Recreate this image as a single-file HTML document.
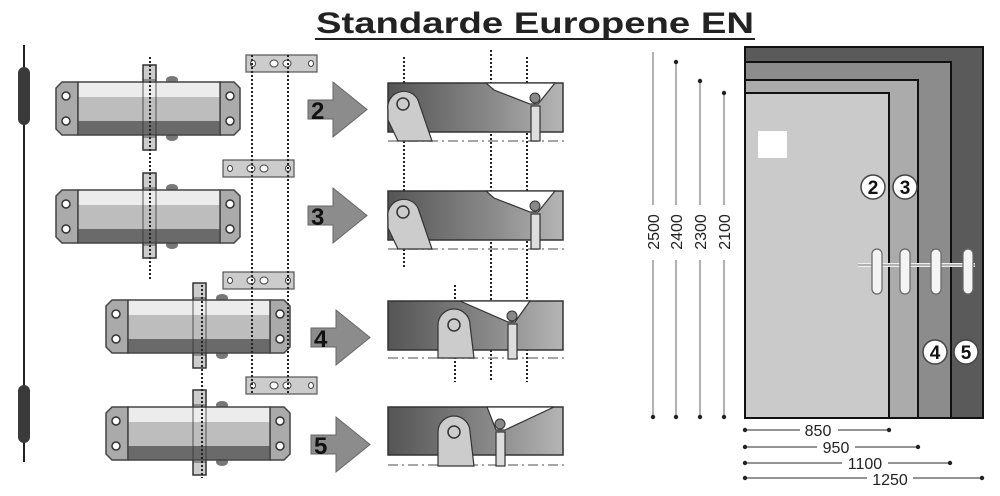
<!DOCTYPE html>
<html><head><meta charset="utf-8"><style>
html,body{margin:0;padding:0;background:#fff;}
svg{display:block;}
text{font-family:"Liberation Sans",sans-serif;}
</style></head><body>
<svg width="1000" height="496" viewBox="0 0 1000 496" xmlns="http://www.w3.org/2000/svg">
<defs>
<linearGradient id="br" x1="0" x2="1" y1="0" y2="0">
<stop offset="0" stop-color="#555"/><stop offset="0.6" stop-color="#8a8a8a"/><stop offset="1" stop-color="#b5b5b5"/>
</linearGradient>
<g id="closer">
<!-- shaft -->
<rect x="143" y="65" width="13" height="85" fill="#ccc" stroke="#333" stroke-width="1.5"/>
<ellipse cx="172" cy="80" rx="6" ry="4" fill="#777"/>
<ellipse cx="172" cy="137" rx="6" ry="4" fill="#777"/>
<!-- body -->
<path d="M62 82 L78 82 L78 135 L62 135 L56 129 L56 88 Z" fill="#aaa" stroke="#444" stroke-width="1.5"/>
<path d="M220 82 L234 82 L240 88 L240 129 L234 135 L220 135 Z" fill="#aaa" stroke="#444" stroke-width="1.5"/>
<rect x="78" y="82" width="142" height="15" fill="#ececec"/>
<rect x="78" y="97" width="142" height="24" fill="#bdbdbd"/>
<rect x="78" y="121" width="142" height="14" fill="#6a6a6a"/>
<rect x="78" y="82" width="142" height="53" fill="none" stroke="#444" stroke-width="1.5"/>
<rect x="143" y="80" width="13" height="57" fill="none" stroke="#333" stroke-width="0.8"/>
<circle cx="66" cy="96" r="4" fill="#fff" stroke="#333" stroke-width="1.5"/>
<circle cx="66" cy="121" r="4" fill="#fff" stroke="#333" stroke-width="1.5"/>
<circle cx="230" cy="96" r="4" fill="#fff" stroke="#333" stroke-width="1.5"/>
<circle cx="230" cy="121" r="4" fill="#fff" stroke="#333" stroke-width="1.5"/>
</g>
<g id="plate">
<rect x="0" y="0" width="71" height="17" fill="#ccc" stroke="#555" stroke-width="1.2"/>
<ellipse cx="7" cy="8.5" rx="2.5" ry="3" fill="#fff" stroke="#444"/>
<ellipse cx="28" cy="8.5" rx="4" ry="3.5" fill="#fff" stroke="#444"/>
<ellipse cx="41" cy="8.5" rx="4" ry="3.5" fill="#fff" stroke="#444"/>
<ellipse cx="65" cy="8.5" rx="2.5" ry="3" fill="#fff" stroke="#444"/>
</g>
<g id="arrow">
<path d="M0 18 L25 18 L25 0 L59 27.5 L25 55 L25 37 L0 37 Z" fill="#8c8c8c" stroke="#666" stroke-width="1"/>
</g>
</defs>

<!-- title -->
<text x="535" y="33" text-anchor="middle" font-size="30" font-weight="bold" fill="#222" textLength="438" lengthAdjust="spacingAndGlyphs">Standarde  Europene  EN</text>
<line x1="315" y1="39" x2="755" y2="39" stroke="#222" stroke-width="2"/>

<!-- left rod -->
<line x1="24" y1="45" x2="24" y2="462" stroke="#222" stroke-width="2"/>
<rect x="18" y="67" width="12" height="58" rx="6" fill="#3a3a3a"/>
<rect x="18" y="385" width="12" height="58" rx="6" fill="#3a3a3a"/>

<!-- closers -->
<use href="#closer"/>
<use href="#closer" transform="translate(0,108)"/>
<use href="#closer" transform="translate(50,218)"/>
<use href="#closer" transform="translate(50,325)"/>

<!-- plates -->
<use href="#plate" transform="translate(246,55)"/>
<use href="#plate" transform="translate(223,160)"/>
<use href="#plate" transform="translate(223,272)"/>
<use href="#plate" transform="translate(246,377)"/>

<!-- dotted vertical lines -->
<g stroke="#222" stroke-width="2" stroke-dasharray="2,2" fill="none">
<line x1="150" y1="57" x2="150" y2="280"/>
<line x1="202" y1="285" x2="202" y2="478"/>
<line x1="252" y1="55" x2="252" y2="395"/>
<line x1="288" y1="55" x2="288" y2="395"/>
<line x1="404" y1="57" x2="404" y2="268"/>
<line x1="491" y1="50" x2="491" y2="382"/>
<line x1="527" y1="57" x2="527" y2="382"/>
<line x1="455" y1="285" x2="455" y2="382"/>
</g>

<!-- arrows -->
<use href="#arrow" transform="translate(308,82)"/>
<use href="#arrow" transform="translate(308,188)"/>
<use href="#arrow" transform="translate(311,310)"/>
<use href="#arrow" transform="translate(311,417)"/>
<g font-size="24" font-weight="bold" fill="#111">
<text x="311" y="119">2</text>
<text x="311" y="225">3</text>
<text x="314" y="347">4</text>
<text x="314" y="454">5</text>
</g>

<!-- brackets -->
<g id="b1">
<line x1="388" y1="141" x2="565" y2="141" stroke="#888" stroke-width="1.5" stroke-dasharray="10,4,2,4"/>
<rect x="388" y="83" width="175" height="49" fill="url(#br)" stroke="#333" stroke-width="1.5"/>
<path d="M388 110 A16 16 0 0 1 418 100 L432 141 L398 141 L388 120 Z" fill="#ccc" stroke="#333" stroke-width="1.2"/>
<circle cx="403" cy="104" r="6" fill="none" stroke="#333" stroke-width="1.5"/>
<path d="M486 83 L555 83 L538 104 L530 104 L494 90 Z" fill="#fff" stroke="#333" stroke-width="1.2"/>
<circle cx="535" cy="98" r="5" fill="#888" stroke="#333"/>
<rect x="531" y="106" width="9" height="35" fill="#ddd" stroke="#333" stroke-width="1.2"/>
</g>
<use href="#b1" transform="translate(0,108)"/>
<g>
<line x1="388" y1="358" x2="565" y2="358" stroke="#888" stroke-width="1.5" stroke-dasharray="10,4,2,4"/>
<rect x="388" y="301" width="175" height="49" fill="url(#br)" stroke="#333" stroke-width="1.5"/>
<path d="M438 358 L438 325 A16 16 0 0 1 470 325 L474 358 Z" fill="#ccc" stroke="#333" stroke-width="1.2"/>
<circle cx="454" cy="325" r="6" fill="none" stroke="#333" stroke-width="1.5"/>
<path d="M460 301 L530 301 L515 322 L508 322 Z" fill="#fff" stroke="#333" stroke-width="1.2"/>
<circle cx="512" cy="316" r="5" fill="#888" stroke="#333"/>
<rect x="508" y="324" width="9" height="35" fill="#ddd" stroke="#333" stroke-width="1.2"/>
</g>
<g>
<line x1="388" y1="465" x2="565" y2="465" stroke="#888" stroke-width="1.5" stroke-dasharray="10,4,2,4"/>
<rect x="388" y="407" width="175" height="48" fill="url(#br)" stroke="#333" stroke-width="1.5"/>
<path d="M438 466 L438 432 A16 16 0 0 1 470 432 L474 466 Z" fill="#ccc" stroke="#333" stroke-width="1.2"/>
<circle cx="454" cy="432" r="6" fill="none" stroke="#333" stroke-width="1.5"/>
<path d="M487 407 L554 407 L505 430 L496 430 Z" fill="#fff" stroke="#333" stroke-width="1.2"/>
<circle cx="500" cy="424" r="5" fill="#888" stroke="#333"/>
<rect x="496" y="432" width="9" height="34" fill="#ddd" stroke="#333" stroke-width="1.2"/>
</g>

<!-- doors -->
<rect x="745" y="47" width="238" height="371" fill="#5a5a5a" stroke="#111" stroke-width="2"/>
<rect x="745" y="62" width="206" height="356" fill="#8c8c8c" stroke="#111" stroke-width="2"/>
<rect x="745" y="80" width="173" height="338" fill="#ababab" stroke="#111" stroke-width="2"/>
<rect x="745" y="93" width="144" height="325" fill="#cacaca" stroke="#111" stroke-width="2"/>
<rect x="758" y="131" width="29" height="27" fill="#fff"/>
<line x1="858" y1="265" x2="975" y2="265" stroke="#eee" stroke-width="4"/>
<line x1="858" y1="265" x2="975" y2="265" stroke="#777" stroke-width="1" />
<g fill="#f4f4f4" stroke="#666" stroke-width="1.2">
<rect x="872" y="249" width="10" height="45" rx="5"/>
<rect x="900" y="249" width="10" height="45" rx="5"/>
<rect x="931" y="249" width="10" height="45" rx="5"/>
<rect x="963" y="249" width="10" height="45" rx="5"/>
</g>
<g fill="#fff" stroke="#444" stroke-width="1.5">
<circle cx="873" cy="187" r="12"/><circle cx="905" cy="187" r="12"/>
<circle cx="935" cy="352" r="12"/><circle cx="966" cy="352" r="12"/>
</g>
<g font-size="19" font-weight="bold" fill="#111" text-anchor="middle">
<text x="873" y="194">2</text><text x="905" y="194">3</text>
<text x="935" y="359">4</text><text x="966" y="359">5</text>
</g>

<!-- vertical dims -->
<g stroke="#999" stroke-width="1.5">
<line x1="653" y1="52" x2="653" y2="418"/>
<line x1="676" y1="62" x2="676" y2="418"/>
<line x1="700" y1="81" x2="700" y2="418"/>
<line x1="724" y1="93" x2="724" y2="418"/>
</g>
<g fill="#222">
<circle cx="676" cy="62" r="2.2"/><circle cx="700" cy="81" r="2.2"/><circle cx="724" cy="93" r="2.2"/>
<circle cx="653" cy="417" r="2.2"/><circle cx="676" cy="417" r="2.2"/><circle cx="700" cy="417" r="2.2"/><circle cx="724" cy="417" r="2.2"/>
</g>
<g font-size="16" fill="#222" text-anchor="middle">
<rect x="645" y="205" width="86" height="55" fill="#fff"/>
<text transform="translate(659,232) rotate(-90)">2500</text>
<text transform="translate(682,232) rotate(-90)">2400</text>
<text transform="translate(706,232) rotate(-90)">2300</text>
<text transform="translate(730,232) rotate(-90)">2100</text>
</g>

<!-- horizontal dims -->
<g stroke="#555" stroke-width="1.3">
<line x1="745" y1="430" x2="889" y2="430"/>
<line x1="745" y1="447" x2="918" y2="447"/>
<line x1="745" y1="463" x2="950" y2="463"/>
<line x1="745" y1="478" x2="982" y2="478"/>
</g>
<g fill="#222">
<circle cx="745" cy="430" r="2.2"/><circle cx="889" cy="430" r="2.2"/>
<circle cx="745" cy="447" r="2.2"/><circle cx="918" cy="447" r="2.2"/>
<circle cx="745" cy="463" r="2.2"/><circle cx="950" cy="463" r="2.2"/>
<circle cx="745" cy="478" r="2.2"/><circle cx="982" cy="478" r="2.2"/>
</g>
<g font-size="16" fill="#222" text-anchor="middle">
<rect x="800" y="422" width="38" height="14" fill="#fff"/><text x="818" y="436">850</text>
<rect x="817" y="439" width="38" height="14" fill="#fff"/><text x="836" y="453">950</text>
<rect x="842" y="455" width="46" height="14" fill="#fff"/><text x="865" y="469">1100</text>
<rect x="867" y="470" width="46" height="14" fill="#fff"/><text x="890" y="485">1250</text>
</g>
</svg>
</body></html>
